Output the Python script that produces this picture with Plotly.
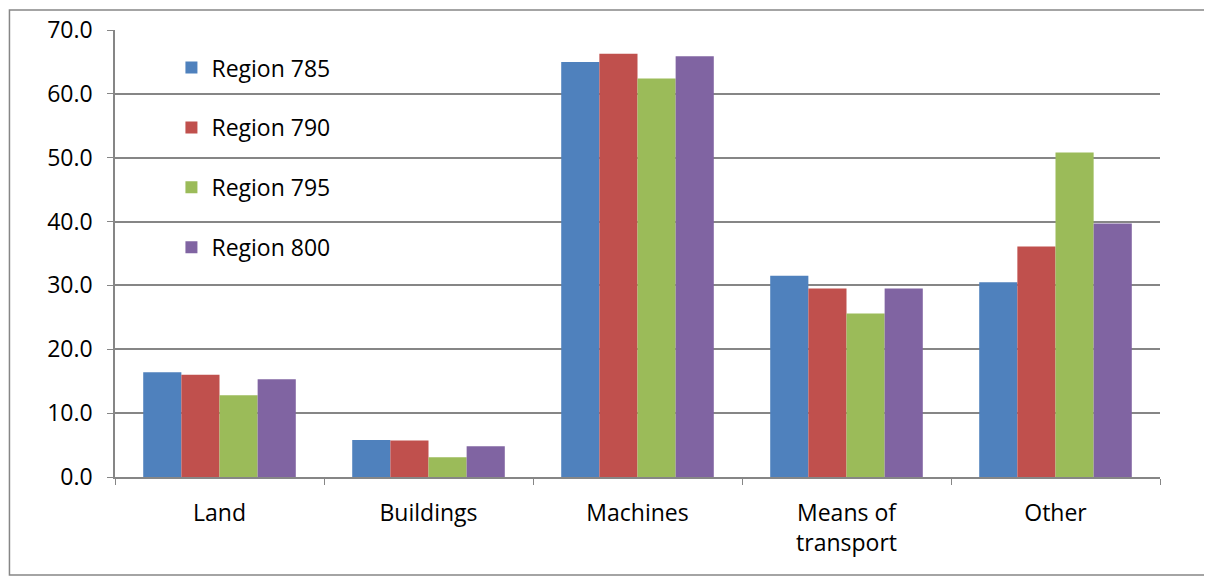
import plotly.graph_objects as go

# Datos
categorias = ["Land", "Buildings", "Machines", "Means of<br>transport", "Other"]
region_785 = [16.4, 5.8, 65.0, 31.5, 30.5]
region_790 = [16.0, 5.7, 66.3, 29.5, 36.1]
region_795 = [12.8, 3.1, 62.4, 25.6, 50.8]
region_800 = [15.3, 4.8, 65.9, 29.5, 39.7]

series = [
    ("Region 785", region_785, "#4F81BD"),
    ("Region 790", region_790, "#C0504D"),
    ("Region 795", region_795, "#9BBB59"),
    ("Region 800", region_800, "#8064A2"),
]

fig = go.Figure()
for nombre, valores, color in series:
    fig.add_trace(go.Bar(
        x=categorias, y=valores, name=nombre,
        marker=dict(color=color, line=dict(width=0)),
        legendgroup=nombre,
    ))

fuente = dict(family="Open Sans, Liberation Sans, sans-serif", size=23, color="#000000")

# la página añade 8 px de margen al body: se compensa aquí
fig.update_layout(
    width=1204, height=570,
    barmode="group", bargap=0.27, bargroupgap=0,
    plot_bgcolor="white", paper_bgcolor="white",
    margin=dict(l=107, r=52, t=22, b=101, autoexpand=False),
    font=fuente,
    legend=dict(
        x=0.054, y=0.964, xanchor="left", yanchor="top",
        bgcolor="rgba(0,0,0,0)", tracegroupgap=27,
        font=fuente,
    ),
    xaxis=dict(
        showline=True, linecolor="#868686", linewidth=1.5,
        ticks="outside", tickson="boundaries", ticklen=6, tickcolor="#868686",
        tickfont=fuente, ticklabelstandoff=15, automargin=False,
    ),
    yaxis=dict(
        range=[0, 70], dtick=10, tickformat=".1f",
        showgrid=True, gridcolor="#868686", gridwidth=1.5,
        showline=True, linecolor="#868686", linewidth=1.5,
        ticks="outside", ticklen=6, tickcolor="#868686",
        tickfont=fuente, zeroline=False, ticklabelstandoff=10, automargin=False,
    ),
    shapes=[dict(
        type="rect", xref="paper", yref="paper",
        x0=-0.101, x1=1.045, y0=-0.219, y1=1.045,
        line=dict(color="#868686", width=1.5), fillcolor="rgba(0,0,0,0)",
    )],
)

fig.write_html("out.html")
